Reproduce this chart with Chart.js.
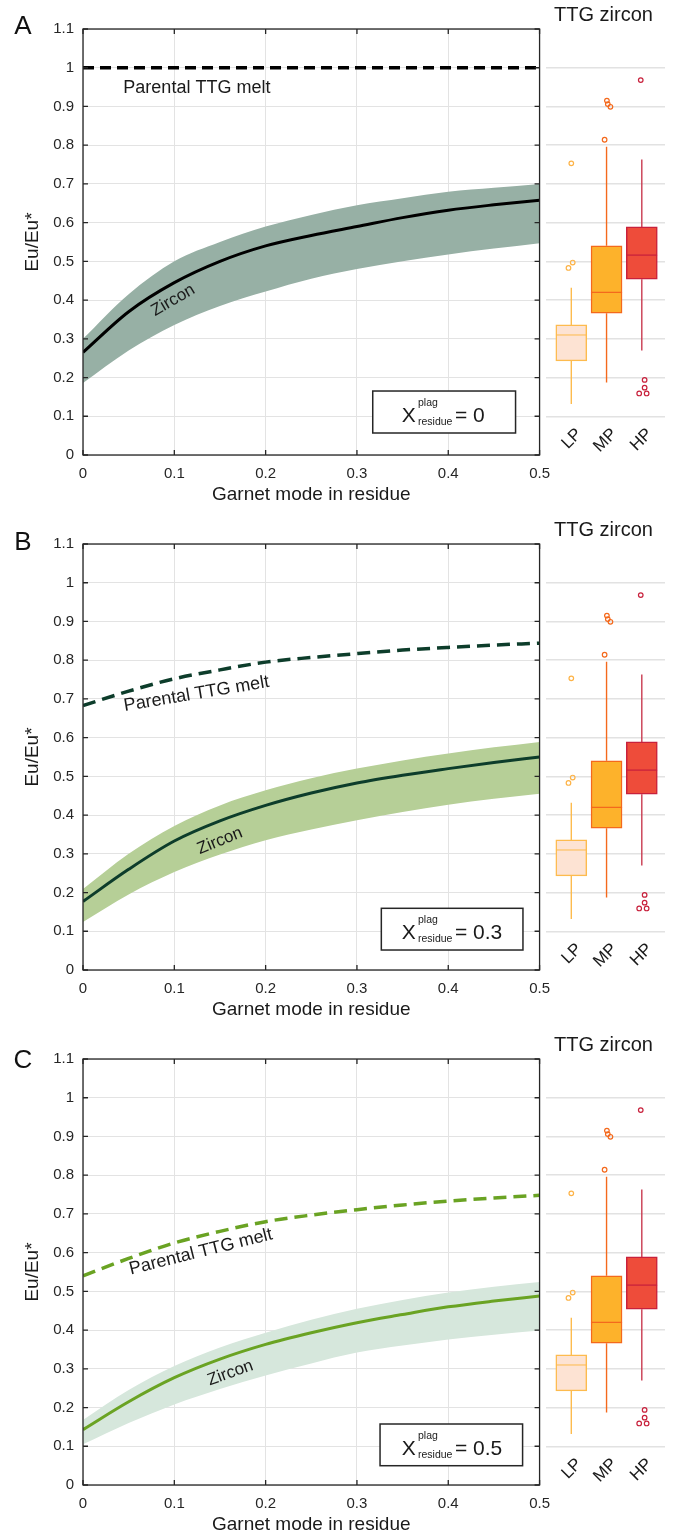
<!DOCTYPE html>
<html>
<head>
<meta charset="utf-8">
<script src="https://cdn.jsdelivr.net/npm/chart.js@4.4.1/dist/chart.umd.min.js"></script>
<style>
html,body{margin:0;padding:0;background:#fff;overflow:hidden;}
#wrap{position:relative;width:673px;height:1545px;}
canvas{position:absolute;}
</style>
</head>
<body>
<div id="wrap">
<canvas id="mainA" width="560" height="515" style="left:0;top:0"></canvas>
<canvas id="boxA" width="132" height="515" style="left:541px;top:0"></canvas>
<canvas id="mainB" width="560" height="515" style="left:0;top:515px"></canvas>
<canvas id="boxB" width="132" height="515" style="left:541px;top:515px"></canvas>
<canvas id="mainC" width="560" height="515" style="left:0;top:1030px"></canvas>
<canvas id="boxC" width="132" height="515" style="left:541px;top:1030px"></canvas>
</div>
<script>
// ---------- data ----------
const garnet = [0, 0.05, 0.1, 0.15, 0.2, 0.25, 0.3, 0.35, 0.4, 0.45, 0.5];

const meltA   = [1, 1, 1, 1, 1, 1, 1, 1, 1, 1, 1];
const zirconA = [0.265, 0.37, 0.445, 0.50, 0.54, 0.567, 0.59, 0.613, 0.632, 0.646, 0.658];
const upperA  = [0.30, 0.415, 0.50, 0.55, 0.59, 0.62, 0.645, 0.663, 0.68, 0.69, 0.70];
const lowerA  = [0.186, 0.27, 0.336, 0.385, 0.422, 0.455, 0.48, 0.50, 0.518, 0.533, 0.547];

const meltB   = [0.683, 0.72, 0.752, 0.775, 0.795, 0.807, 0.817, 0.826, 0.833, 0.839, 0.844];
const zirconB = [0.177, 0.26, 0.333, 0.385, 0.425, 0.457, 0.483, 0.503, 0.52, 0.536, 0.55];
const upperB  = [0.209, 0.30, 0.372, 0.425, 0.464, 0.495, 0.52, 0.541, 0.559, 0.575, 0.589];
const lowerB  = [0.124, 0.195, 0.253, 0.298, 0.335, 0.363, 0.387, 0.408, 0.427, 0.442, 0.455];

const meltC   = [0.54, 0.585, 0.625, 0.655, 0.68, 0.697, 0.711, 0.723, 0.733, 0.741, 0.748];
const zirconC = [0.143, 0.215, 0.277, 0.325, 0.363, 0.393, 0.419, 0.44, 0.46, 0.475, 0.488];
const upperC  = [0.168, 0.245, 0.307, 0.355, 0.393, 0.427, 0.455, 0.478, 0.497, 0.512, 0.524];
const lowerC  = [0.105, 0.16, 0.208, 0.248, 0.283, 0.314, 0.342, 0.36, 0.376, 0.388, 0.399];

const plagValues = ['0', '0.3', '0.5'];

const xTicks = [0, 0.1, 0.2, 0.3, 0.4, 0.5];
const yTicks = [0, 0.1, 0.2, 0.3, 0.4, 0.5, 0.6, 0.7, 0.8, 0.9, 1, 1.1];

// TTG zircon box plot
const boxCats = ['LP', 'MP', 'HP'];
const boxLow  = [0.132, 0.187, 0.270];
const boxQ1   = [0.243, 0.366, 0.454];
const boxMed  = [0.310, 0.420, 0.516];
const boxQ3   = [0.336, 0.540, 0.589];
const boxHigh = [0.432, 0.796, 0.763];
const outLP = [0.753, 0.497, 0.483];
const outMP = [0.814, 0.915, 0.906, 0.899];
const outHP = [0.968, 0.194, 0.174, 0.159, 0.159];
const jitLP = [0, 0.04, -0.08];
const jitMP = [-0.055, 0.01, 0.035, 0.11];
const jitHP = [-0.03, 0.08, 0.08, -0.074, 0.137];
const boxTicks = [0.1, 0.2, 0.3, 0.4, 0.5, 0.6, 0.7, 0.8, 0.9, 1.0];

// ---------- styling ----------
const FONT = '"Liberation Sans", Arial, Helvetica, sans-serif';
Chart.defaults.font.family = FONT;
Chart.defaults.color = '#1a1a1a';
Chart.defaults.animation = false;

const boxFill = ['#fde3d3', '#fdb22b', '#ee4c3a'];
const boxEdge = ['#fdbb4e', '#f4691c', '#c8213c'];
const whiskCol = ['#fdbb4e', '#f4691c', '#c93a50'];
const outCol = ['#fdb347', '#f4691c', '#c8213c'];

const decoPlugin = {
  id: 'deco',
  afterDatasetsDraw(chart, args, o) {
    const {ctx, chartArea: a, scales: {x, y}} = chart;
    ctx.save();
    ctx.strokeStyle = '#262626';
    ctx.lineWidth = 1.3;
    ctx.strokeRect(a.left, a.top, a.right - a.left, a.bottom - a.top);
    ctx.beginPath();
    x.ticks.forEach(t => {
      const p = x.getPixelForValue(t.value);
      ctx.moveTo(p, a.bottom); ctx.lineTo(p, a.bottom - 5);
      ctx.moveTo(p, a.top); ctx.lineTo(p, a.top + 5);
    });
    y.ticks.forEach(t => {
      const p = y.getPixelForValue(t.value);
      ctx.moveTo(a.left, p); ctx.lineTo(a.left + 5, p);
      ctx.moveTo(a.right, p); ctx.lineTo(a.right - 5, p);
    });
    ctx.stroke();

    ctx.fillStyle = '#111';
    ctx.font = '26px ' + FONT;
    ctx.textAlign = 'center';
    ctx.textBaseline = 'middle';
    ctx.fillText(o.letter, 23, o.letterY);

    [o.meltLabel, o.zirconLabel].forEach(l => {
      ctx.save();
      ctx.translate(x.getPixelForValue(l.x), y.getPixelForValue(l.y));
      ctx.rotate(l.rot * Math.PI / 180);
      ctx.font = l.size + 'px ' + FONT;
      ctx.fillStyle = '#1a1a1a';
      ctx.fillText(l.text, 0, 0);
      ctx.restore();
    });

    const b = o.box;
    const bx0 = x.getPixelForValue(b.x0), bx1 = x.getPixelForValue(b.x1);
    const by0 = y.getPixelForValue(b.y0), by1 = y.getPixelForValue(b.y1);
    ctx.fillStyle = '#fff';
    ctx.fillRect(bx0, by0, bx1 - bx0, by1 - by0);
    ctx.strokeStyle = '#262626';
    ctx.lineWidth = 1.5;
    ctx.strokeRect(bx0, by0, bx1 - bx0, by1 - by0);
    const tx = x.getPixelForValue(b.tx), base = by0 + 30.7;
    ctx.fillStyle = '#1a1a1a';
    ctx.textAlign = 'left';
    ctx.textBaseline = 'alphabetic';
    ctx.font = '21px ' + FONT;
    ctx.fillText('X', tx, base);
    ctx.font = '10.5px ' + FONT;
    ctx.fillText('plag', tx + 16.3, base - 16);
    ctx.fillText('residue', tx + 16.3, base + 2.8);
    ctx.font = '21px ' + FONT;
    ctx.fillText('= ' + o.plag, tx + 53.3, base);
    ctx.restore();
  }
};

function pts(arr) { return garnet.map((g, i) => ({x: g, y: arr[i]})); }

function mainChart(id, P) {
  return new Chart(document.getElementById(id), {
    type: 'line',
    plugins: [decoPlugin],
    data: {datasets: [
      {data: pts(P.lower), borderColor: 'rgba(0,0,0,0)', borderWidth: 0.01, pointRadius: 0, fill: false, cubicInterpolationMode: 'monotone', order: 2},
      {data: pts(P.upper), borderColor: 'rgba(0,0,0,0)', borderWidth: 0.01, pointRadius: 0, fill: '-1', backgroundColor: P.band, cubicInterpolationMode: 'monotone', order: 2},
      {data: pts(P.zircon), borderColor: P.line, borderWidth: 3, pointRadius: 0, fill: false, cubicInterpolationMode: 'monotone', order: 0},
      {data: pts(P.melt), borderColor: P.meltColor, borderWidth: 3.5, borderDash: P.dash, pointRadius: 0, fill: false, cubicInterpolationMode: 'monotone', order: 1}
    ]},
    options: {
      responsive: false,
      animation: false,
      layout: {padding: {top: 29, left: 0, right: 20, bottom: 0}},
      plugins: {
        legend: {display: false},
        tooltip: {enabled: false},
        deco: {letter: P.letter, letterY: P.letterY, meltLabel: P.meltLabel, zirconLabel: P.zirconLabel, box: P.box, plag: P.plag}
      },
      scales: {
        x: {
          type: 'linear', min: 0, max: 0.5,
          afterBuildTicks: s => { s.ticks = xTicks.map(v => ({value: v})); },
          afterFit: s => { s.height = 60; },
          grid: {color: '#e3e3e3', lineWidth: 1, drawTicks: false},
          border: {display: false},
          ticks: {padding: 10, color: '#262626', font: {size: 15}, maxRotation: 0, autoSkip: false, callback: v => String(v)},
          title: {display: true, text: 'Garnet mode in residue', font: {size: 19}, color: '#1a1a1a', padding: {top: 0, bottom: 8.6}}
        },
        y: {
          type: 'linear', min: 0, max: 1.1,
          afterBuildTicks: s => { s.ticks = yTicks.map(v => ({value: v})); },
          afterFit: s => { s.width = 83; },
          grid: {color: '#e3e3e3', lineWidth: 1, drawTicks: false},
          border: {display: false},
          ticks: {padding: 9, color: '#262626', font: {size: 15}, autoSkip: false, callback: v => String(v)},
          title: {display: true, text: 'Eu/Eu*', font: {size: 19}, color: '#1a1a1a', padding: {top: 21, bottom: 0}}
        }
      }
    }
  });
}

function boxChart(id) {
  const outliers = [outLP, outMP, outHP];
  const jits = [jitLP, jitMP, jitHP];
  const datasets = [
    {type: 'bar', data: boxCats.map((c, i) => ({x: i + 1, y: [boxQ1[i], boxMed[i]]})),
     backgroundColor: boxFill, borderColor: boxEdge,
     borderWidth: {top: 0.9, bottom: 1.5, left: 1.5, right: 1.5}, borderSkipped: false,
     barThickness: 31, grouped: false, order: 1},
    {type: 'bar', data: boxCats.map((c, i) => ({x: i + 1, y: [boxMed[i], boxQ3[i]]})),
     backgroundColor: boxFill, borderColor: boxEdge,
     borderWidth: {top: 1.5, bottom: 0.9, left: 1.5, right: 1.5}, borderSkipped: false,
     barThickness: 31, grouped: false, order: 1}
  ];
  boxCats.forEach((c, i) => {
    datasets.push({type: 'line', data: [
      {x: i + 1, y: boxHigh[i]}, {x: i + 1, y: boxQ3[i]}, {x: i + 1, y: null},
      {x: i + 1, y: boxQ1[i]}, {x: i + 1, y: boxLow[i]}],
      borderColor: whiskCol[i], borderWidth: 1.4, pointRadius: 0, spanGaps: false, fill: false, order: 3});
  });
  outliers.forEach((arr, i) => {
    datasets.push({type: 'scatter', data: arr.map((v, k) => ({x: i + 1 + jits[i][k], y: v})),
      pointRadius: 2.3, borderWidth: 1.2, borderColor: outCol[i], backgroundColor: 'rgba(255,255,255,0)', order: 0});
  });
  return new Chart(document.getElementById(id), {
    type: 'bar',
    data: {datasets},
    options: {
      responsive: false,
      animation: false,
      layout: {padding: {top: 3, left: 1, right: 8, bottom: 0}},
      plugins: {
        legend: {display: false},
        tooltip: {enabled: false},
        title: {display: true, text: 'TTG zircon', font: {size: 20, weight: 'normal'}, color: '#1a1a1a', padding: {top: 0, bottom: 40.7}}
      },
      scales: {
        x: {
          type: 'linear', min: 0.288, max: 3.658, offset: false,
          afterBuildTicks: s => { s.ticks = [1, 2, 3].map(v => ({value: v})); },
          afterFit: s => { s.height = 98.7; },
          grid: {display: false, offset: false},
          border: {display: false},
          ticks: {autoSkip: false, minRotation: 45, maxRotation: 45, padding: 0, labelOffset: 8,
                  font: {size: 17}, color: '#1a1a1a', callback: v => boxCats[Math.round(v) - 1]}
        },
        y: {
          type: 'linear', min: 0.1, max: 1.0,
          afterBuildTicks: s => { s.ticks = boxTicks.map(v => ({value: v})); },
          afterFit: s => { s.width = 0; },
          grid: {color: '#e2e2e2', lineWidth: 1.5, drawTicks: false},
          border: {display: false},
          ticks: {display: false}
        }
      }
    }
  });
}

const panels = [
  {canvas: 'mainA', box: 'boxA', letter: 'A', letterY: 27, melt: meltA, zircon: zirconA, upper: upperA, lower: lowerA,
   band: '#97b0a5', line: '#000000', meltColor: '#000000', dash: [11, 6],
   meltLabel: {text: 'Parental TTG melt', x: 0.1247, y: 0.948, rot: 0, size: 18},
   zirconLabel: {text: 'Zircon', x: 0.0988, y: 0.3995, rot: -30, size: 17},
   boxR: {x0: 0.3173, x1: 0.4737, y0: 0.1652, y1: 0.0568, tx: 0.349}, plag: plagValues[0]},
  {canvas: 'mainB', box: 'boxB', letter: 'B', letterY: 28, melt: meltB, zircon: zirconB, upper: upperB, lower: lowerB,
   band: '#b6cf97', line: '#0d3d2b', meltColor: '#0d3d2b', dash: [13, 7],
   meltLabel: {text: 'Parental TTG melt', x: 0.1243, y: 0.7126, rot: -9.5, size: 18},
   zirconLabel: {text: 'Zircon', x: 0.150, y: 0.333, rot: -22, size: 17},
   boxR: {x0: 0.3267, x1: 0.4818, y0: 0.1593, y1: 0.0516, tx: 0.349}, plag: plagValues[1]},
  {canvas: 'mainC', box: 'boxC', letter: 'C', letterY: 31, melt: meltC, zircon: zirconC, upper: upperC, lower: lowerC,
   band: '#d6e7dc', line: '#6aa323', meltColor: '#6aa323', dash: [13, 7],
   meltLabel: {text: 'Parental TTG melt', x: 0.129, y: 0.6016, rot: -14, size: 18},
   zirconLabel: {text: 'Zircon', x: 0.1614, y: 0.289, rot: -20, size: 17},
   boxR: {x0: 0.3253, x1: 0.4814, y0: 0.1575, y1: 0.0498, tx: 0.349}, plag: plagValues[2]}
];

panels.forEach(P => {
  mainChart(P.canvas, Object.assign({}, P, {box: P.boxR}));
  boxChart(P.box);
});
</script>
</body>
</html>
